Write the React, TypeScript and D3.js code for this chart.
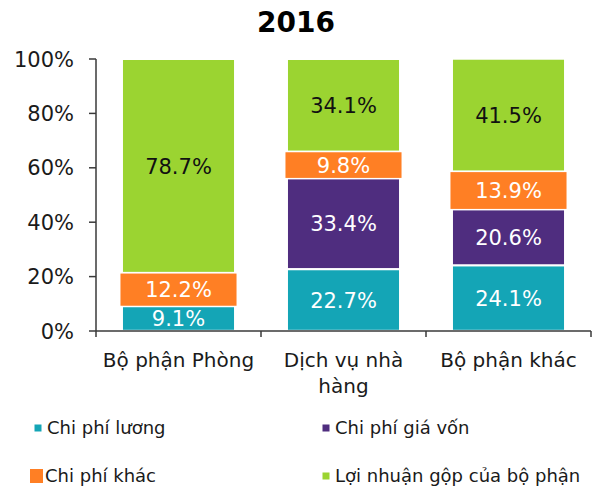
import React, { useEffect, useRef } from "react";
import * as d3 from "d3";

const categories = ["Bộ phận Phòng", "Dịch vụ nhà hàng", "Bộ phận khác"];
const seriesNames = ["Chi phí lương", "Chi phí giá vốn", "Chi phí khác", "Lợi nhuận gộp của bộ phận"];
const chiPhiLuong = [9.1, 22.7, 24.1];
const chiPhiGiaVon = [0, 33.4, 20.6];
const chiPhiKhac = [12.2, 9.8, 13.9];
const loiNhuanGop = [78.7, 34.1, 41.5];
const yTicks = [0, 20, 40, 60, 80, 100];
const title = "2016";

const colors = ["#14a5b6", "#4f2d7f", "#ff7f24", "#9bd431"];
const labelColors = ["#ffffff", "#ffffff", "#ffffff", "#111111"];
const FONT = "'DejaVu Sans', Verdana, sans-serif";

export default function App() {
    const ref = useRef<SVGSVGElement>(null);

    useEffect(() => {
        const height = 488;
        const margin = { top: 59, left: 96, right: 5, bottom: 157 };

        const svg = d3.select(ref.current);
        svg.selectAll("*").remove();

        const series = [chiPhiLuong, chiPhiGiaVon, chiPhiKhac, loiNhuanGop];
        const rows = categories.map((c, i) => {
            const r: any = { cat: c };
            series.forEach((s, k) => (r["s" + k] = s[i]));
            return r;
        });
        const stacked = d3.stack().keys(["s0", "s1", "s2", "s3"])(rows);

        const x = d3
            .scaleBand()
            .domain(categories)
            .range([margin.left, 591])
            .paddingInner(0.327)
            .paddingOuter(0.1635);
        const y = d3
            .scaleLinear()
            .domain([0, 100])
            .range([height - margin.bottom, margin.top]);

        // title
        svg.append("text")
            .attr("x", 296)
            .attr("y", 32)
            .attr("text-anchor", "middle")
            .style("font-family", FONT)
            .style("font-weight", "bold")
            .style("font-size", "28px")
            .style("fill", "#000")
            .text(title);

        // bars
        stacked.forEach((layer, k) => {
            const g = svg.append("g");
            layer.forEach((d: any, i) => {
                const v = series[k][i];
                if (!v) return;
                const x0 = x(categories[i])!;
                const bw = x.bandwidth();
                const yTop = y(d[1]);
                const yBot = y(d[0]);
                if (k === 2) {
                    // orange segment has a thick border, so it sticks out a bit
                    g.append("rect")
                        .attr("x", x0 - 2.5)
                        .attr("width", bw + 5)
                        .attr("y", yTop + 0.5)
                        .attr("height", yBot - yTop - 1)
                        .style("fill", colors[k]);
                } else {
                    g.append("rect")
                        .attr("x", x0)
                        .attr("width", bw)
                        .attr("y", yTop + 1)
                        .attr("height", Math.max(0, yBot - yTop - 2.2))
                        .style("fill", colors[k]);
                }
                g.append("text")
                    .attr("x", x0 + bw / 2)
                    .attr("y", (yTop + yBot) / 2)
                    .attr("dy", "0.36em")
                    .attr("text-anchor", "middle")
                    .style("font-family", FONT)
                    .style("font-size", "21px")
                    .style("fill", labelColors[k])
                    .text(v.toFixed(1) + "%");
            });
        });

        const axisColor = "#3a3a3a";

        // y axis
        const yAxis = svg.append("g");
        yAxis.append("line")
            .attr("x1", margin.left)
            .attr("x2", margin.left)
            .attr("y1", y(100))
            .attr("y2", y(0))
            .style("stroke", axisColor)
            .style("stroke-width", 1.5);
        yTicks.forEach((t) => {
            yAxis.append("line")
                .attr("x1", margin.left - 7)
                .attr("x2", margin.left)
                .attr("y1", y(t))
                .attr("y2", y(t))
                .style("stroke", axisColor)
                .style("stroke-width", 1.5);
            yAxis.append("text")
                .attr("x", 74)
                .attr("y", y(t))
                .attr("dy", "0.36em")
                .attr("text-anchor", "end")
                .style("font-family", FONT)
                .style("font-size", "21px")
                .style("fill", "#1a1a1a")
                .text(t + "%");
        });

        // x axis
        const xAxis = svg.append("g");
        xAxis.append("line")
            .attr("x1", margin.left)
            .attr("x2", 591)
            .attr("y1", y(0))
            .attr("y2", y(0))
            .style("stroke", axisColor)
            .style("stroke-width", 1.5);
        const step = x.step();
        d3.range(categories.length + 1).forEach((i) => {
            const tx = margin.left + i * step;
            xAxis.append("line")
                .attr("x1", tx)
                .attr("x2", tx)
                .attr("y1", y(0))
                .attr("y2", y(0) + 6)
                .style("stroke", axisColor)
                .style("stroke-width", 1.5);
        });
        categories.forEach((c) => {
            const cx = x(c)! + x.bandwidth() / 2;
            const t = xAxis.append("text")
                .attr("x", cx)
                .attr("y", 367)
                .attr("text-anchor", "middle")
                .style("font-family", FONT)
                .style("font-size", "20px")
                .style("fill", "#1a1a1a");
            // wrap words to band width
            const words = c.split(" ");
            let line: string[] = [];
            let tspan = t.append("tspan").attr("x", cx).attr("dy", 0);
            words.forEach((w) => {
                line.push(w);
                tspan.text(line.join(" "));
                const node = tspan.node() as SVGTSpanElement;
                if (node.getComputedTextLength() > step - 8 && line.length > 1) {
                    line.pop();
                    tspan.text(line.join(" "));
                    line = [w];
                    tspan = t.append("tspan").attr("x", cx).attr("dy", "1.3em").text(w);
                }
            });
        });

        // legend
        const legendPos = [
            { x: 38, y: 428 },
            { x: 326, y: 428 },
            { x: 36.5, y: 476 },
            { x: 326, y: 476 },
        ];
        seriesNames.forEach((name, k) => {
            const p = legendPos[k];
            const g = svg.append("g");
            if (k === 2) {
                g.append("rect")
                    .attr("x", p.x - 6.5)
                    .attr("y", p.y - 7)
                    .attr("width", 13)
                    .attr("height", 14)
                    .style("fill", colors[k]);
            } else {
                g.append("rect")
                    .attr("x", p.x - 3.5)
                    .attr("y", p.y - 3.5)
                    .attr("width", 7)
                    .attr("height", 7)
                    .style("fill", colors[k]);
            }
            g.append("text")
                .attr("x", p.x + (k === 2 ? 8.5 : 9))
                .attr("y", p.y)
                .attr("dy", "0.36em")
                .style("font-family", FONT)
                .style("font-size", "18px")
                .style("fill", "#1a1a1a")
                .text(name);
        });
    }, []);

    return (
        <svg
            ref={ref}
            width={596}
            height={488}
            style={{ position: "absolute", left: 0, top: 0, display: "block", background: "#fff" }}
        ></svg>
    );
}
